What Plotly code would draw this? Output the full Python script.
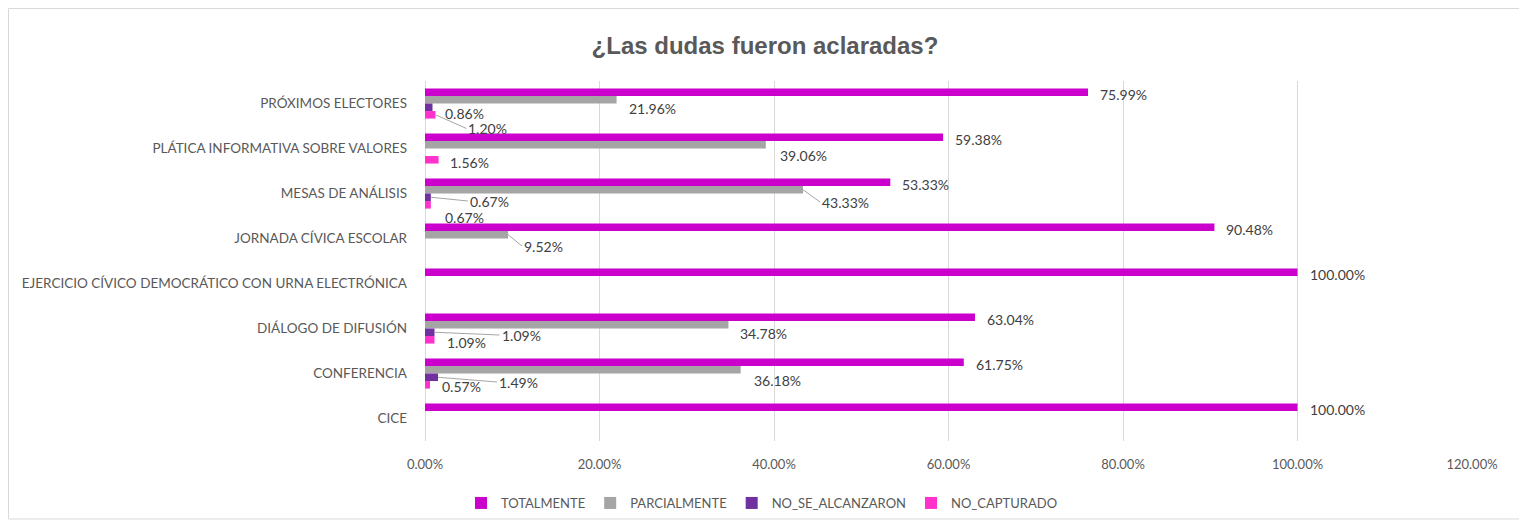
import plotly.graph_objects as go

categories = [
    "PRÓXIMOS ELECTORES",
    "PLÁTICA INFORMATIVA SOBRE VALORES",
    "MESAS DE ANÁLISIS",
    "JORNADA CÍVICA ESCOLAR",
    "EJERCICIO CÍVICO DEMOCRÁTICO CON URNA ELECTRÓNICA",
    "DIÁLOGO DE DIFUSIÓN",
    "CONFERENCIA",
    "CICE",
]
series_names = ["TOTALMENTE", "PARCIALMENTE", "NO_SE_ALCANZARON", "NO_CAPTURADO"]
totalmente = [75.99, 59.38, 53.33, 90.48, 100.00, 63.04, 61.75, 100.00]
parcialmente = [21.96, 39.06, 43.33, 9.52, 0, 34.78, 36.18, 0]
no_se_alcanzaron = [0.86, 0, 0.67, 0, 0, 1.09, 1.49, 0]
no_capturado = [1.20, 1.56, 0.67, 0, 0, 1.09, 0.57, 0]
x_ticks = [0, 20, 40, 60, 80, 100, 120]

values = [totalmente, parcialmente, no_se_alcanzaron, no_capturado]
colors = ["#CC00CC", "#A5A5A5", "#7030A0", "#FF33CC"]

# label placement (pixels): (dx from bar end, dy of text centre from category centre, leader)
bar_dy = [-11.25, -3.75, 3.75, 11.25]
label_pos = {
    0: {i: (10, -9, False) for i in range(8)},
    1: {0: (10, 4.5, False), 1: (12, 6.5, False), 2: (17, 8.5, True), 3: (14, 7.5, True),
        5: (10, 4.5, False), 6: (11, 6.5, False)},
    2: {0: (10, 10, False), 2: (37, 7.5, True), 5: (65, 6.5, True), 6: (59, 8.5, True)},
    3: {0: (31, 25, True), 1: (9, 13.5, False), 2: (12, 23.5, False), 5: (10, 13.5, False),
        6: (10, 12.5, False)},
}

fig = go.Figure()
for name, vals, col in zip(series_names, values, colors):
    fig.add_trace(go.Bar(
        y=categories, x=vals, name=name, orientation="h",
        marker=dict(color=col, line=dict(width=0)),
        hoverinfo="x+y+name",
    ))

label_font = dict(family="Lato, Open Sans, sans-serif", size=14, color="#404040")
annotations = []
for s, vals in enumerate(values):
    for i, v in enumerate(vals):
        if v <= 0 or i not in label_pos[s]:
            continue
        dx, dy, leader = label_pos[s][i]
        txt = f"{v:.2f}%"
        if leader:
            annotations.append(dict(
                x=v, y=categories[i], xref="x", yref="y", text=txt,
                showarrow=True, arrowhead=0, arrowwidth=1, arrowcolor="#A6A6A6",
                ax=dx, ay=dy - bar_dy[s], xanchor="left", yanchor="middle",
                yshift=-bar_dy[s], font=label_font, standoff=0, startstandoff=0,
            ))
        else:
            annotations.append(dict(
                x=v, y=categories[i], xref="x", yref="y", text=txt,
                showarrow=False, xanchor="left", yanchor="middle",
                xshift=dx, yshift=-dy, font=label_font,
            ))

# page has an 8px body margin; figure coordinates = page coordinates - 8
OFF = 8
W, H = 1527 - OFF, 521 - OFF
plot_left, plot_right, plot_top, plot_bottom = 425 - OFF, 1472 - OFF, 81 - OFF, 441 - OFF
ml, mr, mt, mb = plot_left, W - plot_right, plot_top, H - plot_bottom
pw, ph = W - ml - mr, H - mt - mb


def px_to_paper_x(px):
    return (px - OFF - ml) / pw


def px_to_paper_y(py):
    return (H - mb - (py - OFF)) / ph


fig.update_layout(
    width=W, height=H,
    margin=dict(l=ml, r=mr, t=mt, b=mb, autoexpand=False),
    paper_bgcolor="white", plot_bgcolor="white",
    barmode="group", bargap=0.33, bargroupgap=0,
    title=dict(text="<b>¿Las dudas fueron aclaradas?</b>", x=(765 - OFF) / W, xanchor="center",
               xref="container", yref="container", y=1 - (46 - OFF) / H, yanchor="middle",
               font=dict(family="Liberation Sans Narrow, Arial Narrow, Liberation Sans, Arial",
                         size=24, color="#595959")),
    xaxis=dict(range=[0, 120], tickvals=x_ticks, ticktext=[f"{t:.2f}%" for t in x_ticks],
               showgrid=True, gridcolor="#D9D9D9", gridwidth=1, zeroline=True, zerolinecolor="#D9D9D9",
               zerolinewidth=1, showline=False, ticks="", automargin=False, ticklabelstandoff=14,
               tickfont=dict(family="Lato, Open Sans, sans-serif", size=13, color="#595959")),
    yaxis=dict(categoryorder="array", categoryarray=categories,
               range=[len(categories) - 0.5, -0.5], autorange=False,
               showgrid=False, zeroline=False, showline=False, ticks="", ticklabelstandoff=17,
               automargin=False,
               tickfont=dict(family="Lato, Open Sans, sans-serif", size=13.5, color="#595959")),
    legend=dict(orientation="h", x=px_to_paper_x(762), xanchor="center", xref="paper",
                y=px_to_paper_y(503), yanchor="middle", yref="paper",
                font=dict(family="Lato, Open Sans, sans-serif", size=13, color="#595959"),
                itemwidth=30, traceorder="normal"),
    annotations=annotations,
    shapes=[dict(type="rect", xref="paper", yref="paper",
                 x0=px_to_paper_x(8.5), x1=px_to_paper_x(1521),
                 y0=px_to_paper_y(519), y1=px_to_paper_y(8.5),
                 line=dict(color="#D9D9D9", width=1), fillcolor="rgba(0,0,0,0)", layer="below")],
    showlegend=True,
)

fig.write_html("out.html")
